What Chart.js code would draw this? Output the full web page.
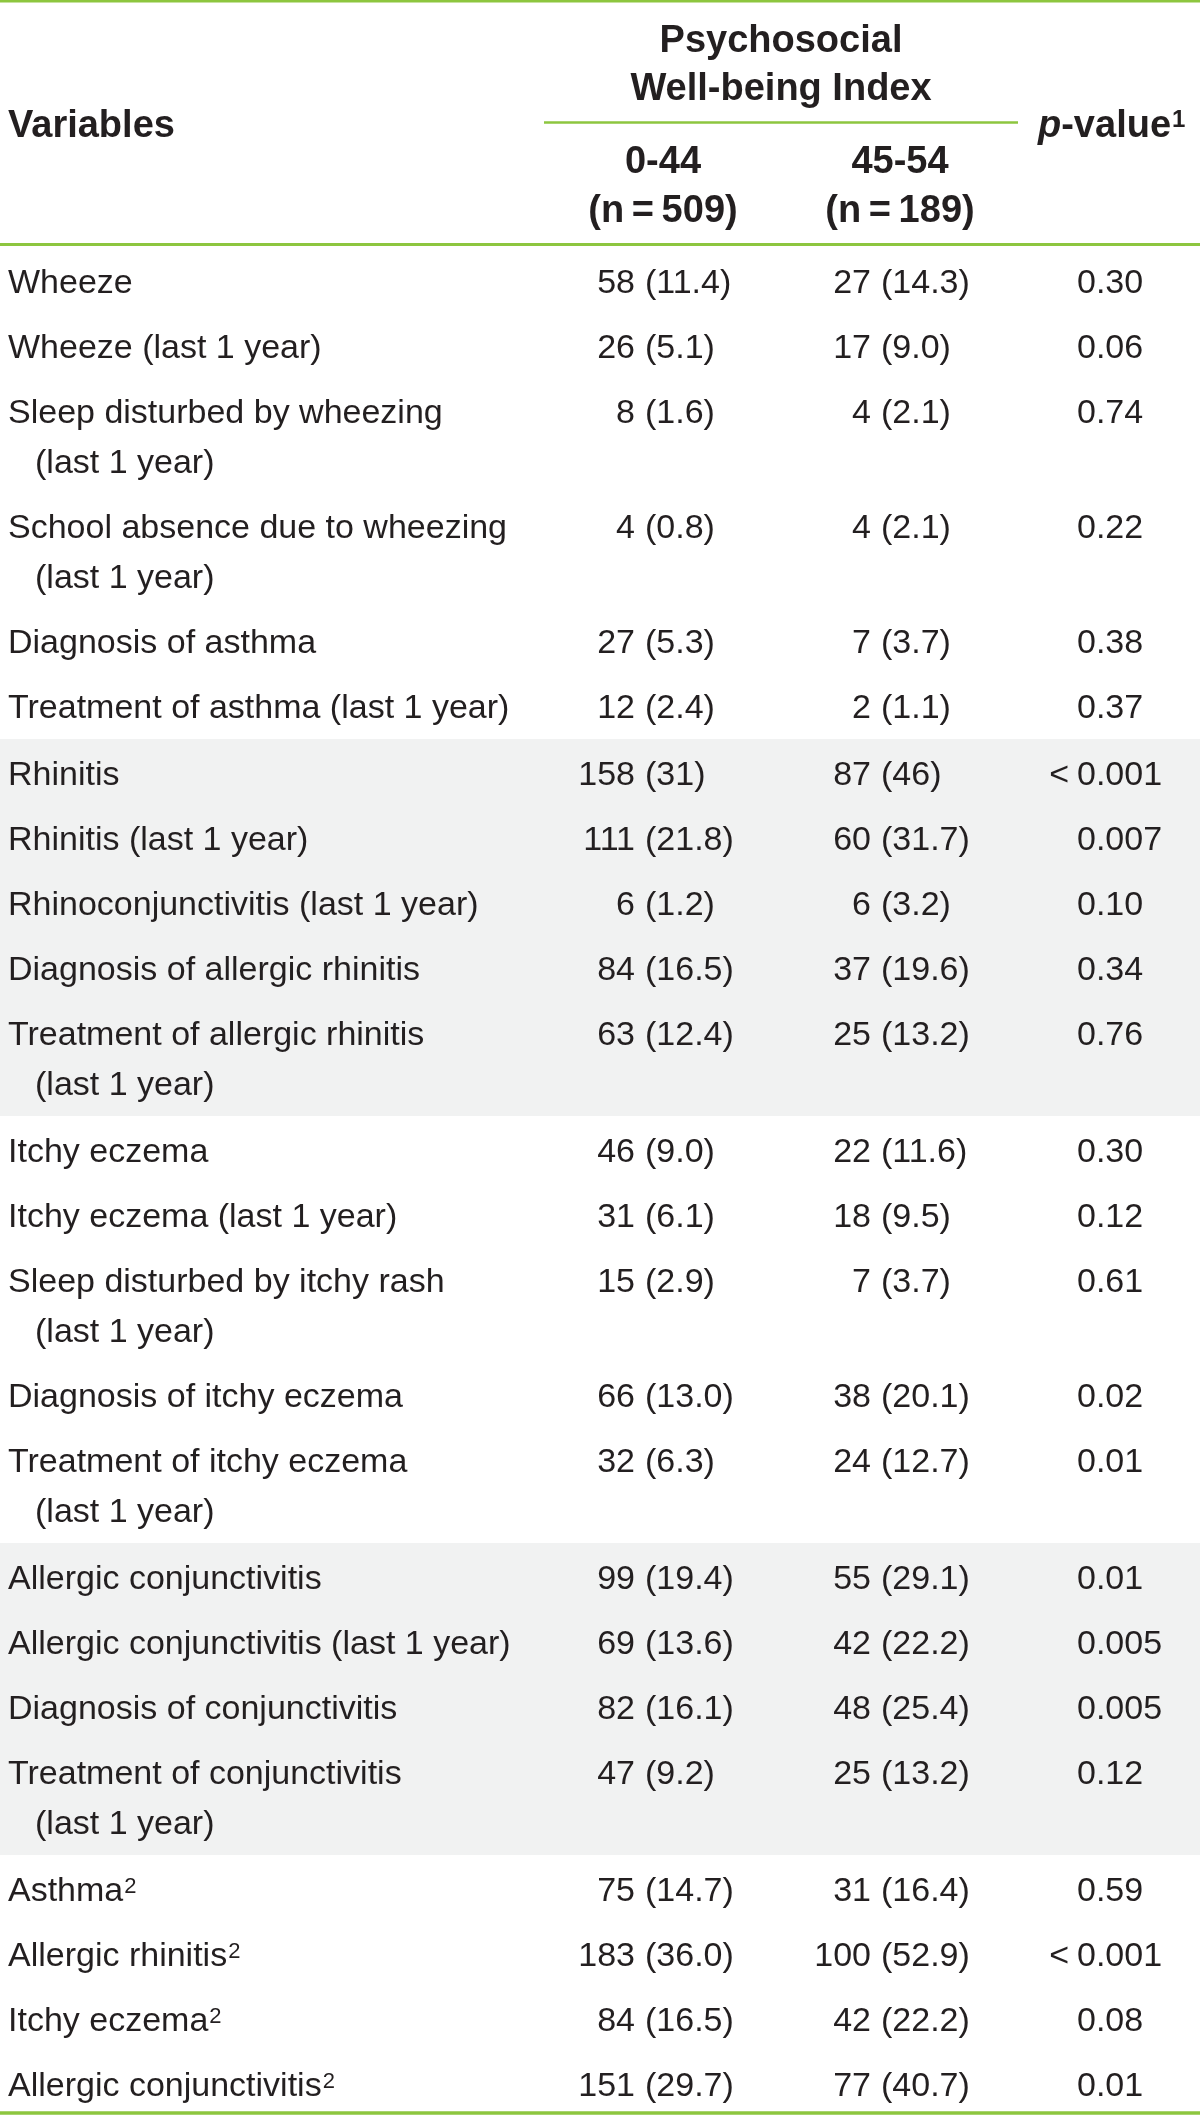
<!DOCTYPE html>
<html>
<head>
<meta charset="utf-8">
<script src="https://cdn.jsdelivr.net/npm/chart.js@4.4.1/dist/chart.umd.min.js"></script>
<style>
  html, body { margin: 0; padding: 0; background: #fff; }
  #wrap { width: 1200px; height: 2122px; }
</style>
</head>
<body>
<div id="wrap"><canvas id="tableChart" width="1200" height="2122"></canvas></div>
<script>
// table content
const variables = [
  ['Wheeze'],
  ['Wheeze (last 1 year)'],
  ['Sleep disturbed by wheezing', '(last 1 year)'],
  ['School absence due to wheezing', '(last 1 year)'],
  ['Diagnosis of asthma'],
  ['Treatment of asthma (last 1 year)'],
  ['Rhinitis'],
  ['Rhinitis (last 1 year)'],
  ['Rhinoconjunctivitis (last 1 year)'],
  ['Diagnosis of allergic rhinitis'],
  ['Treatment of allergic rhinitis', '(last 1 year)'],
  ['Itchy eczema'],
  ['Itchy eczema (last 1 year)'],
  ['Sleep disturbed by itchy rash', '(last 1 year)'],
  ['Diagnosis of itchy eczema'],
  ['Treatment of itchy eczema', '(last 1 year)'],
  ['Allergic conjunctivitis'],
  ['Allergic conjunctivitis (last 1 year)'],
  ['Diagnosis of conjunctivitis'],
  ['Treatment of conjunctivitis', '(last 1 year)'],
  ['Asthma'],
  ['Allergic rhinitis'],
  ['Itchy eczema'],
  ['Allergic conjunctivitis']
];
const variableNotes = ['', '', '', '', '', '', '', '', '', '', '', '', '', '', '', '', '', '', '', '', '2', '2', '2', '2'];

const groupSizes = [6, 5, 5, 4, 4];
const shadedGroups = [1, 3];

const indexGroups = ['0-44', '45-54'];
const groupN = ['509', '189'];

const lowCount = [58, 26, 8, 4, 27, 12, 158, 111, 6, 84, 63, 46, 31, 15, 66, 32, 99, 69, 82, 47, 75, 183, 84, 151];
const lowPct = ['11.4', '5.1', '1.6', '0.8', '5.3', '2.4', '31', '21.8', '1.2', '16.5', '12.4', '9.0', '6.1', '2.9', '13.0', '6.3', '19.4', '13.6', '16.1', '9.2', '14.7', '36.0', '16.5', '29.7'];
const highCount = [27, 17, 4, 4, 7, 2, 87, 60, 6, 37, 25, 22, 18, 7, 38, 24, 55, 42, 48, 25, 31, 100, 42, 77];
const highPct = ['14.3', '9.0', '2.1', '2.1', '3.7', '1.1', '46', '31.7', '3.2', '19.6', '13.2', '11.6', '9.5', '3.7', '20.1', '12.7', '29.1', '22.2', '25.4', '13.2', '16.4', '52.9', '22.2', '40.7'];
const pValues = ['0.30', '0.06', '0.74', '0.22', '0.38', '0.37', '<0.001', '0.007', '0.10', '0.34', '0.76', '0.30', '0.12', '0.61', '0.02', '0.01', '0.01', '0.005', '0.005', '0.12', '0.59', '<0.001', '0.08', '0.01'];

// look
const INK = '#231f20';
const GREEN = '#8dc63f';
const GREY = '#f1f2f2';
const FONT = '"Liberation Sans", Arial, sans-serif';
const BODY = '34px ' + FONT;
const HEAD = 'bold 38px ' + FONT;

// layout in axis units (1 unit = 1 px)
const W = 1200, H = 2122;
const BODY_TOP = 249, ROW_H = 65, LINE_H = 50, GAP = 2, FIRST_BASE = 44;
const COL_LABEL = 8, COL_INDENT = 35, COL_LOW = 635, COL_HIGH = 871, COL_P = 1077, PAREN_GAP = 10;

const rowBase = [];
const bands = [];
let cur = BODY_TOP, r = 0;
groupSizes.forEach((n, g) => {
  const start = cur;
  for (let k = 0; k < n; k++, r++) {
    rowBase.push(cur + FIRST_BASE);
    cur += ROW_H + (variables[r].length - 1) * LINE_H;
  }
  bands.push([g ? start - GAP : start, cur]);
  cur += GAP;
});

const pts = (xv) => rowBase.map(b => ({ x: xv, y: b }));

function hline(ctx, xs, x0, x1, yv, width) {
  const { x, y } = xs;
  ctx.strokeStyle = GREEN;
  ctx.lineWidth = width;
  ctx.beginPath();
  ctx.moveTo(x.getPixelForValue(x0), y.getPixelForValue(yv));
  ctx.lineTo(x.getPixelForValue(x1), y.getPixelForValue(yv));
  ctx.stroke();
}

const tablePlugin = {
  id: 'tableCells',
  beforeDatasetsDraw(chart) {
    const { ctx, scales } = chart;
    const { x, y } = scales;
    ctx.save();
    ctx.fillStyle = GREY;
    shadedGroups.forEach(g => {
      const [a, b] = bands[g];
      ctx.fillRect(x.getPixelForValue(0), y.getPixelForValue(a),
        x.getPixelForValue(W) - x.getPixelForValue(0), y.getPixelForValue(b) - y.getPixelForValue(a));
    });
    hline(ctx, scales, 0, W, 1, 3);
    hline(ctx, scales, 544, 1018, 122.5, 2.5);
    hline(ctx, scales, 0, W, 244.5, 3);
    hline(ctx, scales, 0, W, 2113, 3.5);
    ctx.restore();
  },
  afterDatasetsDraw(chart) {
    const { ctx } = chart;
    const { x, y } = chart.scales;
    ctx.save();
    ctx.fillStyle = INK;
    ctx.textBaseline = 'alphabetic';

    // header
    ctx.font = HEAD;
    ctx.textAlign = 'left';
    ctx.fillText('Variables', x.getPixelForValue(COL_LABEL), y.getPixelForValue(137));
    ctx.textAlign = 'center';
    ctx.fillText('Psychosocial', x.getPixelForValue(781), y.getPixelForValue(52));
    ctx.fillText('Well-being Index', x.getPixelForValue(781), y.getPixelForValue(100));
    [663, 900].forEach((cx, i) => {
      ctx.fillText(indexGroups[i], x.getPixelForValue(cx), y.getPixelForValue(173));
      ctx.fillText('(n\u2009=\u2009' + groupN[i] + ')', x.getPixelForValue(cx), y.getPixelForValue(222));
    });
    ctx.textAlign = 'left';
    let px = x.getPixelForValue(1038);
    const py = y.getPixelForValue(137);
    ctx.font = 'italic ' + HEAD;
    ctx.fillText('p', px, py);
    px += ctx.measureText('p').width;
    ctx.font = HEAD;
    ctx.fillText('-value', px, py);
    px += ctx.measureText('-value').width + 1;
    ctx.font = 'bold 24px ' + FONT;
    ctx.fillText('1', px, py - 10);

    // body cells from the dataset points
    const [mLab, mLow, mHigh, mP] = [0, 1, 2, 3].map(i => chart.getDatasetMeta(i).data);
    ctx.font = BODY;
    mLab.forEach((el, i) => {
      ctx.textAlign = 'left';
      variables[i].forEach((line, k) => {
        const lx = k === 0 ? el.x : x.getPixelForValue(COL_INDENT);
        ctx.fillText(line, lx, el.y + k * LINE_H);
      });
      if (variableNotes[i]) {
        const w = ctx.measureText(variables[i][0]).width;
        ctx.font = '22px ' + FONT;
        ctx.fillText(variableNotes[i], el.x + w + 1, el.y - 8);
        ctx.font = BODY;
      }
    });
    const drawCount = (el, n, pct) => {
      ctx.textAlign = 'right';
      ctx.fillText(String(n), el.x, el.y);
      ctx.textAlign = 'left';
      ctx.fillText('(' + pct + ')', el.x + PAREN_GAP, el.y);
    };
    mLow.forEach((el, i) => drawCount(el, lowCount[i], lowPct[i]));
    mHigh.forEach((el, i) => drawCount(el, highCount[i], highPct[i]));
    mP.forEach((el, i) => {
      const v = pValues[i];
      ctx.textAlign = 'left';
      if (v[0] === '<') {
        ctx.fillText(v.slice(1), el.x, el.y);
        ctx.textAlign = 'right';
        ctx.fillText('<', el.x - 8, el.y);
      } else {
        ctx.fillText(v, el.x, el.y);
      }
    });
    ctx.restore();
  }
};

const ctx = document.getElementById('tableChart').getContext('2d');
new Chart(ctx, {
  type: 'scatter',
  data: {
    datasets: [
      { label: 'Variables', data: pts(COL_LABEL), pointRadius: 0 },
      { label: indexGroups[0], data: pts(COL_LOW), pointRadius: 0 },
      { label: indexGroups[1], data: pts(COL_HIGH), pointRadius: 0 },
      { label: 'p-value', data: pts(COL_P), pointRadius: 0 }
    ]
  },
  options: {
    responsive: false,
    animation: false,
    layout: { padding: 0 },
    plugins: { legend: { display: false }, tooltip: { enabled: false } },
    scales: {
      x: { type: 'linear', min: 0, max: W, display: false },
      y: { type: 'linear', min: 0, max: H, reverse: true, display: false }
    }
  },
  plugins: [tablePlugin]
});
</script>
</body>
</html>
